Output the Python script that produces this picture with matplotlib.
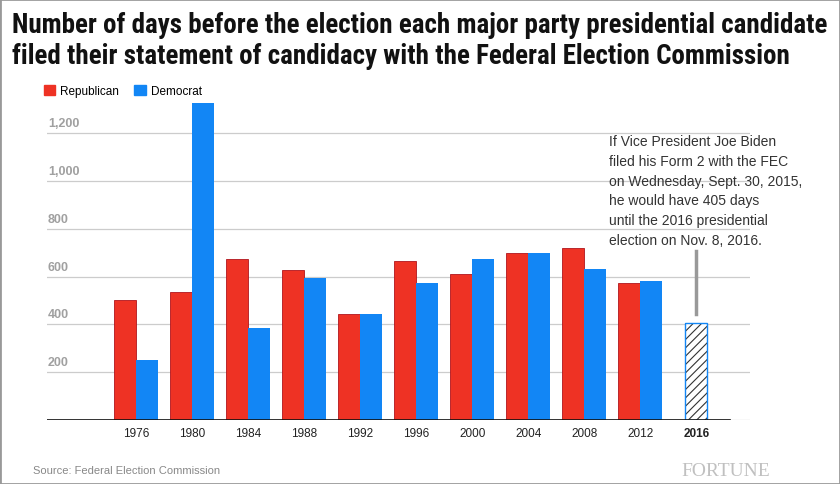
import numpy as np
import matplotlib.pyplot as plt
import matplotlib.transforms as mtransforms
from matplotlib.patches import Patch, Rectangle

# data
years = ['1976', '1980', '1984', '1988', '1992', '1996', '2000', '2004', '2008', '2012']
republican = [502, 534, 672, 627, 442, 664, 611, 697, 718, 573]
democrat = [251, 1326, 385, 594, 442, 573, 673, 697, 632, 582]
biden_year = '2016'
biden_days = 405
yticks = [200, 400, 600, 800, 1000, 1200]

RED = '#ee3224'
BLUE = '#1286f5'
SANS = ['Liberation Sans', 'DejaVu Sans']
NARROW = ['Liberation Sans Narrow', 'Roboto Condensed', 'Lato', 'DejaVu Sans']

fig = plt.figure(figsize=(8.4, 4.85), dpi=100)
W, H = 840, 485
# axes box in pixels: x 47..750, baseline at y=421, top at y=100
ax = fig.add_axes([47 / W, (H - 421) / H, (750 - 47) / W, (421 - 100) / H])
ax.set_xlim(-1.59, 10.96)
ax.set_ylim(0, 1343)

x = np.arange(len(years))
bw = 0.39
ax.bar(x - bw / 2, republican, bw, color=RED, edgecolor='#b0151c', linewidth=0.6, zorder=3)
ax.bar(x + bw / 2, democrat, bw, color=BLUE, linewidth=0, zorder=3)

# hypothetical 2016 bar, hatched
xb = len(years)
plt.rcParams['hatch.linewidth'] = 0.8
ax.bar(xb, biden_days, bw, color='white', edgecolor='#333333', hatch='////', linewidth=0, zorder=3)
ax.bar(xb, biden_days, bw, fill=False, edgecolor=BLUE, linewidth=1.0, zorder=4)
ax.plot([xb, xb], [biden_days + 38, biden_days + 302], color='#999999', lw=2.5, zorder=3)

# gridlines and baseline
for v in [0] + yticks:
    ax.axhline(v, color='#cccccc', lw=0.9, zorder=1)
ax.axhline(0, xmin=0, xmax=(10.6 + 1.59) / (10.96 + 1.59), color='#111111', lw=1.2, zorder=5)

for s in ax.spines.values():
    s.set_visible(False)
ax.set_xticks([])
ax.set_yticks([])

# y labels sit inside the plot, above each gridline
trans = mtransforms.offset_copy(ax.get_yaxis_transform(), fig=fig, x=1, y=4, units='dots')
for v in yticks:
    ax.text(0, v, f'{v:,}', transform=trans, ha='left', va='bottom', fontsize=9,
            color='#a0a0a0', fontweight='bold', family=SANS)

# x labels
xtrans = mtransforms.offset_copy(ax.get_xaxis_transform(), fig=fig, x=0, y=-13, units='dots')
for i, yr in enumerate(years + [biden_year]):
    ax.text(i, 0, yr, transform=xtrans, ha='center', va='center', fontsize=8.5,
            color='#222222', family=SANS, fontweight='bold' if yr == biden_year else 'normal')

# annotation
fig.text(609 / W, 1 - 135 / H,
         'If Vice President Joe Biden\nfiled his Form 2 with the FEC\n'
         'on Wednesday, Sept. 30, 2015,\nhe would have 405 days\n'
         'until the 2016 presidential\nelection on Nov. 8, 2016.',
         ha='left', va='top', fontsize=10, color='#333333', linespacing=1.53, family=SANS)

# title, sized so the first line spans the width of the picture
t1 = fig.text(12 / W, 1 - 33 / H,
              'Number of days before the election each major party presidential candidate',
              ha='left', va='baseline', fontsize=18, fontweight='heavy', color='#111111',
              family=NARROW)
t2 = fig.text(12 / W, 1 - 64 / H,
              'filed their statement of candidacy with the Federal Election Commission',
              ha='left', va='baseline', fontsize=18, fontweight='heavy', color='#111111',
              family=NARROW)
r = fig.canvas.get_renderer()
w1 = t1.get_window_extent(r).width
size = min(18 * 816 / w1, 20)
t1.set_fontsize(size)
t2.set_fontsize(size)

# legend
handles = [Patch(color=RED), Patch(color=BLUE)]
fig.legend(handles, ['Republican', 'Democrat'], loc='upper left',
           bbox_to_anchor=(33 / W, 1 - 75 / H), ncol=2, frameon=False,
           handlelength=1.0, handleheight=1.0, handletextpad=0.4, columnspacing=1.3,
           prop={'family': SANS, 'size': 8.5})

# footer
fig.text(33 / W, 1 - 471 / H, 'Source: Federal Election Commission', ha='left', va='center',
         fontsize=8, color='#888888', family=SANS)
fig.text(770 / W, 1 - 476 / H, 'FORTUNE', ha='right', va='baseline', fontsize=14,
         color='#c0c0c0', family=['Liberation Serif', 'DejaVu Serif'])

# thin frame round the whole picture
fig.patches.append(Rectangle((0, 0), 1, 1, transform=fig.transFigure, fill=False,
                             edgecolor='#999999', lw=2))

fig.savefig('out.png', dpi=100)
